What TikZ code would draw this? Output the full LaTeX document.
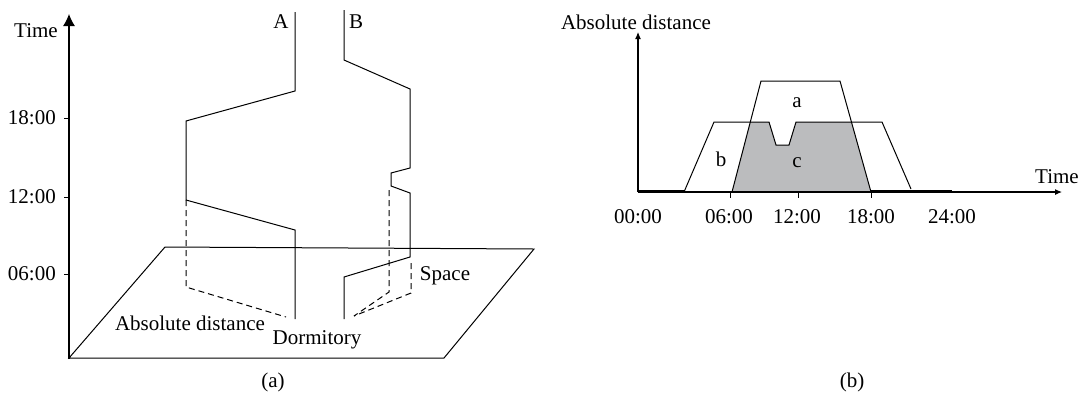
\documentclass[tikz,border=0pt]{standalone}
\usepackage{fontspec}
\setmainfont{Liberation Serif}
\usetikzlibrary{arrows.meta}
\definecolor{cgray}{RGB}{187,188,190}

\begin{document}
\begin{tikzpicture}[x=1pt,y=-1pt,
lbl/.style={font=\fontsize{21}{25}\selectfont, inner sep=0pt},
ln/.style={line width=1pt},
dsh/.style={line width=1pt, dash pattern=on 6pt off 4pt},
axa/.style={line width=1.1pt, -{Latex[length=12pt,width=12pt]}},
axb/.style={line width=1.1pt, -{Latex[length=7pt,width=6pt]}}
]
\useasboundingbox (0,0) rectangle (1086,400);
% (a) time axis and plane
\coordinate (o) at (69,359);
\coordinate (ot) at (69,14);
\draw[axa] (o) -- (ot);
\node[lbl, anchor=east] (tm) at (58,31) {Time};
\foreach \y/\t in {118/18:00, 197/12:00, 274/06:00}{
  \draw[ln] (64,\y) -- (69,\y);
  \node[lbl, anchor=east] at (56,\y) {\t};
}
\draw[ln] (69,358) -- (165,247) -- (534,249) -- (444,358) -- cycle;
% trajectory A
\draw[ln] (295,12) -- (295,91) -- (186,121) -- (186,200) -- (295,230) -- (295,319);
\draw[dsh] (186,200) -- (186,287) -- (286,317);
% trajectory B
\draw[ln] (344,10) -- (344,60) -- (410,89) -- (410,168) -- (391,173) -- (391,186)
  -- (410,193) -- (410,257) -- (344,277) -- (344,319);
\draw[dsh] (389,190) -- (389,292) -- (354,316);
\draw[dsh] (411,263) -- (411,293) -- (354,316);
\node[lbl] (la) at (281,22) {A};
\node[lbl] (lb) at (356,22) {B};
\node[lbl] (sp) at (445,276) {Space};
\node[lbl] (ad) at (190,323) {Absolute distance};
\node[lbl] (dm) at (317,340) {Dormitory};
\node[lbl] (capa) at (273,382) {(a)};
% (b) distance over the day
\coordinate (p) at (638,192);
\coordinate (py) at (638,32);
\coordinate (px) at (1062,192);
\fill[cgray] (732,192) -- (750.3,122) -- (769,122) -- (776,145) -- (789,145) -- (796,122)
  -- (851.5,122) -- (871,192) -- cycle;
\draw[axb] (p) -- (py);
\draw[axb] (p) -- (px);
\draw[line width=1.6pt] (638,190.5) -- (684,190.5);
\draw[ln] (871,190) -- (952,190);
\draw[ln] (732,192) -- (761,81) -- (840,81) -- (871,192);
\draw[ln] (684,192) -- (714,122) -- (769,122) -- (776,145) -- (789,145) -- (796,122)
  -- (882,122) -- (911,189);
\foreach \x in {730,798,871}{
  \draw[ln] (\x,192) -- (\x,198);
}
\foreach \x/\t in {638/00:00, 729/06:00, 797/12:00, 871/18:00, 952/24:00}{
  \node[lbl] at (\x,217) {\t};
}
\node[lbl] (ya) at (636,22) {Absolute distance};
\node[lbl] (xt) at (1057,177) {Time};
\node[lbl] (na) at (797,103) {a};
\node[lbl] (nb) at (721,159) {b};
\node[lbl] (nc) at (797,163) {c};
\node[lbl] (capb) at (852,382) {(b)};
\end{tikzpicture}
\end{document}
